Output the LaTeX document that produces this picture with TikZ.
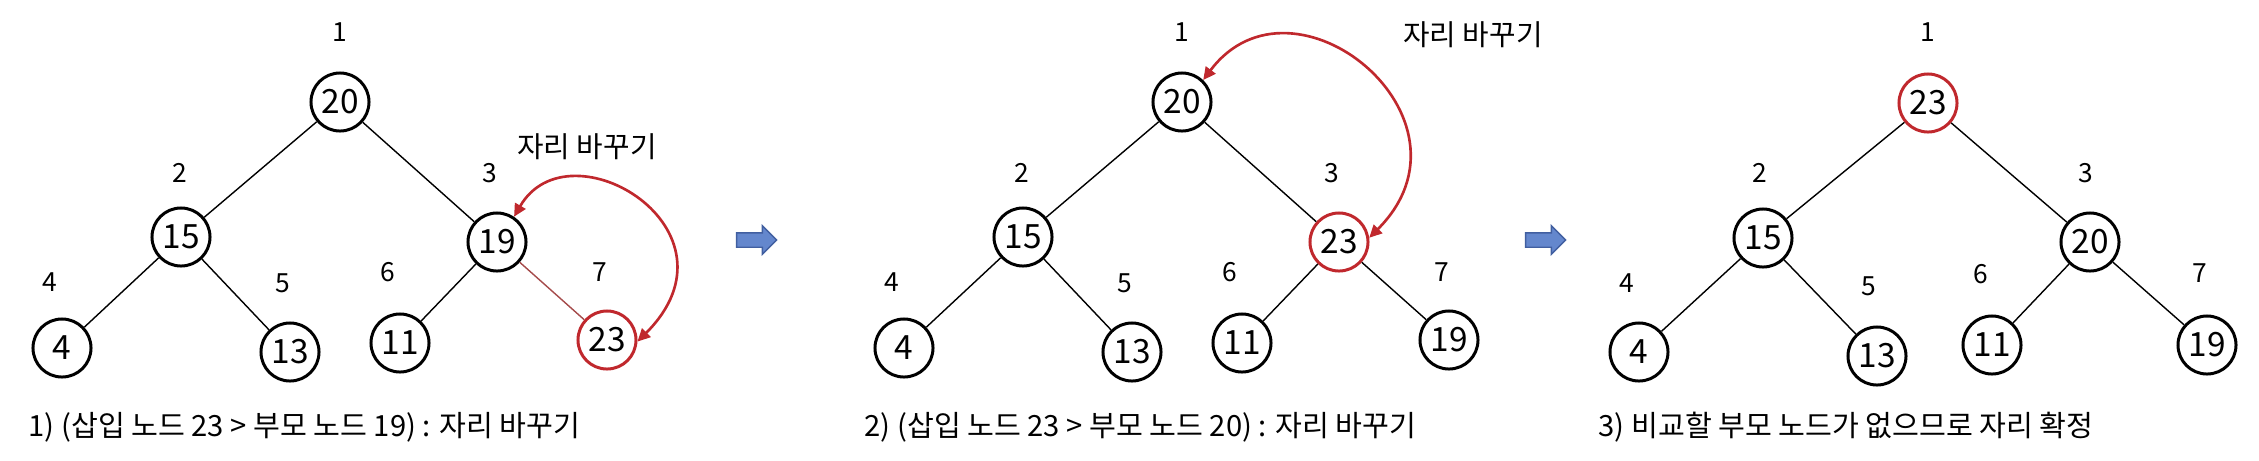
\documentclass[tikz,border=0pt]{standalone}
\usepackage{fontspec}
\setmainfont{Noto Sans CJK KR}
\usetikzlibrary{arrows.meta,shapes.arrows}
\definecolor{heapred}{RGB}{192,40,45}
\definecolor{edgered}{RGB}{165,75,75}
\definecolor{stepblue}{RGB}{100,135,205}
\definecolor{stepline}{RGB}{65,95,160}
\tikzset{
  heapnode/.style={circle, draw=black, line width=0.85pt, minimum size=0.58cm, inner sep=0pt, font=\fontsize{9.5}{11}\selectfont},
  idx/.style={font=\fontsize{7.5}{9}\selectfont},
  steptext/.style={anchor=west, inner sep=0pt, font=\fontsize{8.3}{10}\selectfont},
  swaptext/.style={font=\fontsize{8.2}{10}\selectfont},
  treeedge/.style={line width=0.4pt},
  swaparrow/.style={draw=heapred, line width=0.75pt, {Triangle[length=3.6pt,width=3.4pt]}-{Triangle[length=3.6pt,width=3.4pt]}},
  nextarrow/.style={single arrow, draw=stepline, fill=stepblue, line width=0.4pt, minimum height=0.4cm, minimum width=0.27cm, single arrow head extend=0.07cm, inner xsep=0pt, inner ysep=0.065cm}
}
\begin{document}
\begin{tikzpicture}[x=0.01cm, y=-0.01cm]
\useasboundingbox (0,0) rectangle (2259,460);

% 1) insert 23 under 19
\foreach \i/\x/\y/\v/\c in {
  1/340/102/20/black,
  2/181/237/15/black,
  3/497/242/19/black,
  4/62/348/4/black,
  5/290/352/13/black,
  6/400/343/11/black,
  7/607/340/23/heapred} {
  \node[heapnode, draw=\c] (a\i) at (\x,\y) {\v};
}
\foreach \i/\x/\y in {1/340/32, 2/180/173, 3/490/173, 4/50/282, 5/283/283, 6/388/272, 7/600/272}
  \node[idx] (ia\i) at (\x,\y) {\i};
\foreach \p/\q in {1/2, 1/3, 2/4, 2/5, 3/6}
  \draw[treeedge] (a\p) -- (a\q);
\draw[treeedge, edgered] (a3) -- (a7);
\draw[swaparrow] (a3.56) .. controls +(55,-95) and +(112,-112) .. (a7.-3);
\node[swaptext] (sa) at (587,147) {자리 바꾸기};
\node[steptext] (ta) at (28,427) {1) (삽입 노드 23 > 부모 노드 19) : 자리 바꾸기};

\node[nextarrow] (arr1) at (753,240) {};

% 2) 23 moves up to 3
\foreach \i/\x/\y/\v/\c in {
  1/1182/102/20/black,
  2/1023/237/15/black,
  3/1339/242/23/heapred,
  4/904/348/4/black,
  5/1132/352/13/black,
  6/1242/343/11/black,
  7/1449/340/19/black} {
  \node[heapnode, draw=\c] (b\i) at (\x,\y) {\v};
}
\foreach \i/\x/\y in {1/1182/32, 2/1022/173, 3/1332/173, 4/892/282, 5/1125/283, 6/1230/272, 7/1442/272}
  \node[idx] (ib\i) at (\x,\y) {\i};
\foreach \p/\q in {1/2, 1/3, 2/4, 2/5, 3/6, 3/7}
  \draw[treeedge] (b\p) -- (b\q);
\draw[swaparrow] (b1.46) .. controls +(90,-120) and +(119,-119) .. (b3.8);
\node[swaptext] (sb) at (1473,35) {자리 바꾸기};
\node[steptext] (tb) at (864,427) {2) (삽입 노드 23 > 부모 노드 20) : 자리 바꾸기};

\node[nextarrow] (arr2) at (1542,240) {};

% 3) 23 at the root
\foreach \i/\x/\y/\v/\c in {
  1/1928/103/23/heapred,
  2/1763/238/15/black,
  3/2090/242/20/black,
  4/1639/352/4/black,
  5/1877/356/13/black,
  6/1992/345/11/black,
  7/2207/345/19/black} {
  \node[heapnode, draw=\c] (c\i) at (\x,\y) {\v};
}
\foreach \i/\x/\y in {1/1928/32, 2/1760/173, 3/2086/173, 4/1627/283, 5/1869/286, 6/1981/274, 7/2200/273}
  \node[idx] (ic\i) at (\x,\y) {\i};
\foreach \p/\q in {1/2, 1/3, 2/4, 2/5, 3/6, 3/7}
  \draw[treeedge] (c\p) -- (c\q);
\node[steptext] (tc) at (1598,427) {3) 비교할 부모 노드가 없으므로 자리 확정};
\end{tikzpicture}
\end{document}
